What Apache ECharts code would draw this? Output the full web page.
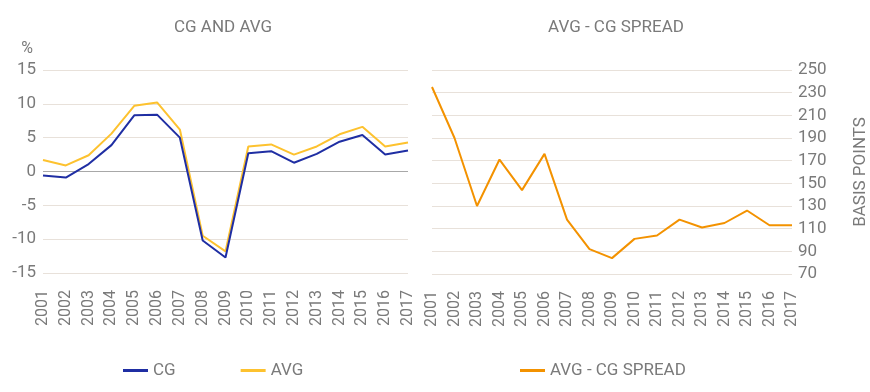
<!DOCTYPE html>
<html>
<head>
<meta charset="utf-8">
<script src="https://cdn.jsdelivr.net/npm/echarts@6/dist/echarts.min.js"></script>
<style>html,body{margin:0;padding:0;background:#fff}#c{width:870px;height:392px}</style>
</head>
<body>
<div id="c"></div>
<script>
const years = ['2001','2002','2003','2004','2005','2006','2007','2008','2009','2010','2011','2012','2013','2014','2015','2016','2017'];
const cg  = [-0.6,-0.9,1.1,3.9,8.3,8.4,5.0,-10.2,-12.7,2.7,3.0,1.3,2.6,4.4,5.4,2.5,3.1];
const avg = [1.7,0.9,2.4,5.6,9.7,10.2,6.2,-9.5,-11.8,3.7,4.0,2.5,3.7,5.5,6.6,3.7,4.3];
const spread = [235,190,130,171,144,176,118,92,84,101,104,118,111,115,126,113,113];
const leftTicks = {min:-15, max:15, interval:5};
const rightTicks = {min:70, max:250, interval:20};

const txt = '#7a7a7a';
const grid = '#e8e1da';
const font = 'Roboto';
const fw = 'normal';
const chart = echarts.init(document.getElementById('c'));
const xAx = (gi) => ({
  type:'category', gridIndex:gi, data:years, boundaryGap:false,
  axisLine:{show:false}, axisTick:{show:false},
  axisLabel:{rotate:90, color:txt, fontFamily:font, fontWeight:fw, fontSize:16, margin:17, interval:0}
});
chart.setOption({
  animation:false,
  textStyle:{fontFamily:font},
  title:[
    {text:'CG AND AVG', left:218, top:14, textAlign:'center', textStyle:{color:txt, fontWeight:fw, fontSize:17, fontFamily:font}},
    {text:'AVG - CG SPREAD', left:611, top:14, textAlign:'center', textStyle:{color:txt, fontWeight:fw, fontSize:17, fontFamily:font}}
  ],
  grid:[
    {left:43, right:462, top:70, bottom:119},
    {left:432, right:73, top:70, bottom:118}
  ],
  legend:[
    {data:['CG','AVG'], left:123, top:362, padding:0, itemWidth:25, itemHeight:3, icon:'rect', itemGap:65,
     textStyle:{color:txt, fontSize:17, fontWeight:fw, fontFamily:font}},
    {data:['AVG - CG SPREAD'], left:520, top:362, padding:0, itemWidth:25, itemHeight:3, icon:'rect',
     textStyle:{color:txt, fontSize:17, fontWeight:fw, fontFamily:font}}
  ],
  xAxis:[xAx(0), xAx(1)],
  yAxis:[
    {type:'value', gridIndex:0, min:leftTicks.min, max:leftTicks.max, interval:leftTicks.interval,
     name:'%', nameLocation:'end', nameGap:13, nameTextStyle:{color:txt, fontSize:16, fontWeight:fw, align:'right', padding:[0,10,0,0]},
     axisLine:{show:false}, axisTick:{show:false},
     axisLabel:{color:txt, fontSize:17, fontWeight:fw, margin:7},
     splitLine:{lineStyle:{color:grid, width:1}}},
    {type:'value', gridIndex:1, position:'right', min:rightTicks.min, max:rightTicks.max, interval:rightTicks.interval,
     name:'BASIS POINTS', nameLocation:'middle', nameRotate:90, nameGap:60,
     nameTextStyle:{color:txt, fontSize:17, fontWeight:fw},
     axisLine:{show:false}, axisTick:{show:false},
     axisLabel:{color:txt, fontSize:17, fontWeight:fw, margin:6},
     splitLine:{lineStyle:{color:grid, width:1}}}
  ],
  series:[
    {name:'AVG', type:'line', xAxisIndex:0, yAxisIndex:0, data:avg, showSymbol:false,
     lineStyle:{color:'#fdc22f', width:2}, itemStyle:{color:'#fdc22f'}, z:2},
    {name:'CG', type:'line', xAxisIndex:0, yAxisIndex:0, data:cg, showSymbol:false,
     lineStyle:{color:'#1f2ea3', width:2}, itemStyle:{color:'#1f2ea3'}, z:3,
     markLine:{silent:true, symbol:'none', label:{show:false}, lineStyle:{color:'#a8a8a8', type:'solid', width:1}, data:[{yAxis:0}], z:1}},
    {name:'AVG - CG SPREAD', type:'line', xAxisIndex:1, yAxisIndex:1, data:spread, showSymbol:false,
     lineStyle:{color:'#f39200', width:2}, itemStyle:{color:'#f39200'}}
  ]
});
</script>
</body>
</html>
